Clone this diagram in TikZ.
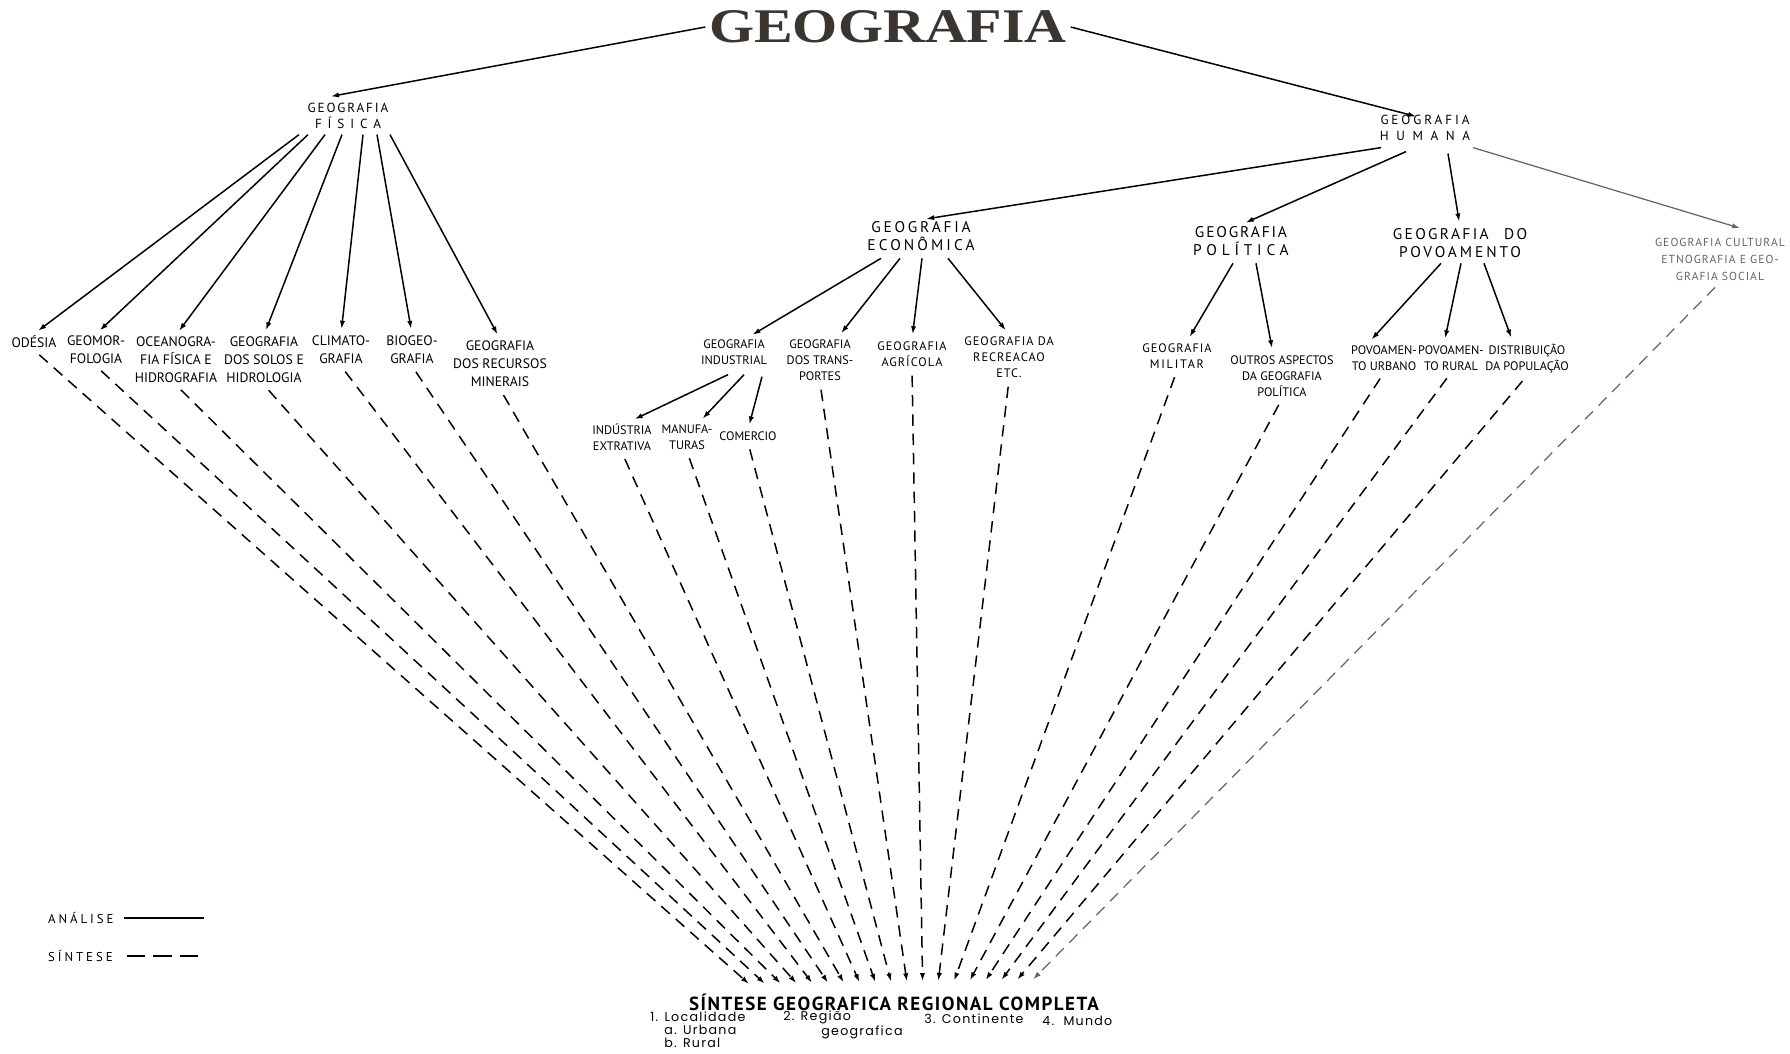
\documentclass[tikz,border=0pt]{standalone}
\usepackage{fontspec}
\setmainfont{PT Sans}
\newfontfamily\titlefont[FakeStretch=1.2]{Liberation Serif}
\newfontfamily\subfont[LetterSpace=10]{Poppins}
\usetikzlibrary{arrows.meta,calc}
\definecolor{ink}{HTML}{3B352F}
\definecolor{faded}{HTML}{6E605A}
\newcommand\lsp[2]{{\addfontfeature{LetterSpace=#1}#2}}

\begin{document}
\begin{tikzpicture}[x=0.2mm, y=-0.2mm,
	hd/.style={align=center, inner sep=1pt, font=\fontsize{7.5}{8.8}\selectfont},
	hdb/.style={align=center, inner sep=1pt, font=\fontsize{8.8}{9.8}\selectfont},
	lbl/.style={align=center, inner sep=1pt, font=\fontsize{7.8}{10.2}\selectfont},
	slbl/.style={align=center, inner sep=1pt, font=\fontsize{7}{9.2}\selectfont},
	sub/.style={anchor=west, inner sep=0pt, font=\subfont\fontsize{7.2}{8}\selectfont},
	cult/.style={align=center, inner sep=1pt, text=faded, font=\fontsize{6.6}{9.7}\selectfont\addfontfeature{LetterSpace=9}},
	ana/.style={-{Latex[length=4.5pt,width=3pt]}, line width=0.85pt, shorten >=3pt},
	sin/.style={-{Latex[length=4.5pt,width=3pt]}, line width=0.85pt, dash pattern=on 6.5pt off 4.5pt, shorten <=4pt}]
	\useasboundingbox (0,0) rectangle (1790,1053);

	% topo
	\node[text=ink, inner sep=2pt, font=\titlefont\bfseries\fontsize{27.5}{30}\selectfont] (geo) at (888,27) {GEOGRAFIA};
	\node[hd] (fisica) at (348,116) {\lsp{14}{GEOGRAFIA}\\\lsp{45}{FÍSICA}};
	\node[hd] (humana) at (1425,128) {\lsp{22}{GEOGRAFIA}\\\lsp{58}{HUMANA}};
	\draw[ana, shorten >=0pt] (geo.west) -- ($(fisica.north)+(-17,-5)$);
	\draw[ana, shorten >=0pt] (geo.east) -- ($(humana.north)+(-9,3)$);

	% geografia fisica
	\node[lbl] (odesia) at (34,342) {ODÉSIA};
	\node[lbl] (geomor) at (96,350) {GEOMOR-\\FOLOGIA};
	\node[lbl] (oceano) at (176,360) {OCEANOGRA-\\FIA FÍSICA E\\HIDROGRAFIA};
	\node[lbl] (solos) at (264,360) {GEOGRAFIA\\DOS SOLOS E\\HIDROLOGIA};
	\node[lbl] (climato) at (341,350) {CLIMATO-\\GRAFIA};
	\node[lbl] (biogeo) at (412,350) {BIOGEO-\\GRAFIA};
	\node[lbl] (recursos) at (500,364) {GEOGRAFIA\\DOS RECURSOS\\MINERAIS};
	\draw[ana] ($(fisica.south)+(-49,4)$) -- (odesia.north);
	\draw[ana] ($(fisica.south)+(-40,4)$) -- (geomor.north);
	\draw[ana] ($(fisica.south)+(-23,4)$) -- (oceano.north);
	\draw[ana] ($(fisica.south)+(-6,4)$) -- (solos.north);
	\draw[ana] ($(fisica.south)+(15,4)$) -- (climato.north);
	\draw[ana] ($(fisica.south)+(29,4)$) -- (biogeo.north);
	\draw[ana] ($(fisica.south)+(42,4)$) -- (recursos.north);

	% geografia humana
	\node[hdb] (economica) at (921,236) {\lsp{18}{GEOGRAFIA}\\\lsp{20}{ECONÔMICA}};
	\node[hdb] (politica) at (1241,241) {\lsp{12}{GEOGRAFIA}\\\lsp{31}{POLÍTICA}};
	\node[hdb] (povoamento) at (1460,243) {\lsp{15}{GEOGRAFIA}\quad\lsp{15}{DO}\\\lsp{19}{POVOAMENTO}};
	\node[cult] (cultural) at (1720,259) {GEOGRAFIA CULTURAL\\ETNOGRAFIA E GEO-\\GRAFIA SOCIAL};
	\draw[ana] ($(humana.south)+(-44,5)$) -- (economica.north);
	\draw[ana] ($(humana.south)+(-19,9)$) -- (politica.north);
	\draw[ana] ($(humana.south)+(23,11)$) -- (povoamento.north);
	\draw[ana, faded, line width=0.7pt] ($(humana.south)+(48,5)$) -- ($(cultural.north)+(25,-6)$);

	% economica
	\node[slbl] (industrial) at (734,352) {GEOGRAFIA\\INDUSTRIAL};
	\node[slbl] (transportes) at (820,360) {GEOGRAFIA\\DOS TRANS-\\PORTES};
	\node[slbl] (agricola) at (912,354) {\lsp{8}{GEOGRAFIA}\\\lsp{8}{AGRÍCOLA}};
	\node[slbl] (recreacao) at (1009,357) {\lsp{8}{GEOGRAFIA DA}\\\lsp{8}{RECREACAO}\\\lsp{8}{ETC.}};
	\draw[ana] ($(economica.south)+(-40,6)$) -- ($(industrial.north)+(14,0)$);
	\draw[ana] ($(economica.south)+(-21,6)$) -- ($(transportes.north)+(18,0)$);
	\draw[ana] ($(economica.south)+(1,6)$) -- (agricola.north);
	\draw[ana] ($(economica.south)+(27,6)$) -- (recreacao.north);

	\node[slbl] (extrativa) at (622,437) {INDÚSTRIA\\EXTRATIVA};
	\node[slbl] (manufaturas) at (687,437) {MANUFA-\\TURAS};
	\node[slbl] (comercio) at (748,436) {COMERCIO};
	\draw[ana] ($(industrial.south)+(-6,8)$) -- ($(extrativa.north)+(8,0)$);
	\draw[ana] ($(industrial.south)+(10,8)$) -- ($(manufaturas.north)+(12,0)$);
	\draw[ana] ($(industrial.south)+(28,10)$) -- (comercio.north);

	% politica
	\node[slbl] (militar) at (1177,356) {\lsp{8}{GEOGRAFIA}\\\lsp{14}{MILITAR}};
	\node[slbl] (outros) at (1282,376) {OUTROS ASPECTOS\\DA GEOGRAFIA\\POLÍTICA};
	\draw[ana] ($(politica.south)+(-8,6)$) -- ($(militar.north)+(10,0)$);
	\draw[ana] ($(politica.south)+(15,6)$) -- ($(outros.north)+(-9,0)$);

	% povoamento
	\node[slbl] (urbano) at (1384,358) {POVOAMEN-\\TO URBANO};
	\node[slbl] (rural) at (1451,358) {POVOAMEN-\\TO RURAL};
	\node[slbl] (distribuicao) at (1527,359) {DISTRIBUIÇÃO\\DA POPULAÇÃO};
	\draw[ana] ($(povoamento.south)+(-19,4)$) -- ($(urbano.north)+(-16,0)$);
	\draw[ana] ($(povoamento.south)+(1,4)$) -- ($(rural.north)+(-7,0)$);
	\draw[ana] ($(povoamento.south)+(24,4)$) -- ($(distribuicao.north)+(-14,0)$);

	% sintese
	\node[inner sep=1pt, font=\bfseries\fontsize{10.8}{12}\selectfont\addfontfeature{LetterSpace=8}] (sintese) at (894,1002) {SÍNTESE GEOGRAFICA REGIONAL COMPLETA};
	\node[sub] (localidade) at (650,1017) {1. Localidade};
	\node[sub] (urbana) at (664,1030) {a. Urbana};
	\node[sub] (rurl) at (664,1043) {b. Rural};
	\node[sub] (regiao) at (783,1017) {2. Região};
	\node[sub] (geografica) at (821,1032) {geografica};
	\node[sub] (continente) at (924,1019) {3. Continente};
	\node[sub] (mundo) at (1042,1021) {4.\ \ Mundo};

	\foreach \i in {1,...,19}
		\coordinate (t\i) at ({733+15.8*\i},{984-0.25*\i});

	\draw[sin] (odesia.south) -- (t1);
	\draw[sin] (geomor.south) -- (t2);
	\draw[sin] (oceano.south) -- (t3);
	\draw[sin] (solos.south) -- (t4);
	\draw[sin] (climato.south) -- (t5);
	\draw[sin] (biogeo.south) -- (t6);
	\draw[sin] (recursos.south) -- (t7);
	\draw[sin] (extrativa.south) -- (t8);
	\draw[sin] (manufaturas.south) -- (t9);
	\draw[sin] (comercio.south) -- (t10);
	\draw[sin] (transportes.south) -- (t11);
	\draw[sin] (agricola.south) -- (t12);
	\draw[sin] (recreacao.south) -- (t13);
	\draw[sin] (militar.south) -- (t14);
	\draw[sin] (outros.south) -- (t15);
	\draw[sin] (urbano.south) -- (t16);
	\draw[sin] (rural.south) -- (t17);
	\draw[sin] (distribuicao.south) -- (t18);
	\draw[sin, faded, line width=0.7pt] (cultural.south) -- (t19);

	% legenda
	\node[anchor=west, inner sep=1pt, font=\fontsize{7.3}{8}\selectfont\addfontfeature{LetterSpace=23}] (analise) at (46,918) {ANÁLISE};
	\node[anchor=west, inner sep=1pt, font=\fontsize{7.3}{8}\selectfont\addfontfeature{LetterSpace=23}] (sintleg) at (46,956) {SÍNTESE};
	\draw[line width=0.85pt] (analise.east) ++(8,0) -- ++(80,0);
	\draw[line width=0.85pt, dash pattern=on 10.5pt off 4.5pt] (sintleg.east) ++(12,0) -- ++(71,0);
\end{tikzpicture}
\end{document}
